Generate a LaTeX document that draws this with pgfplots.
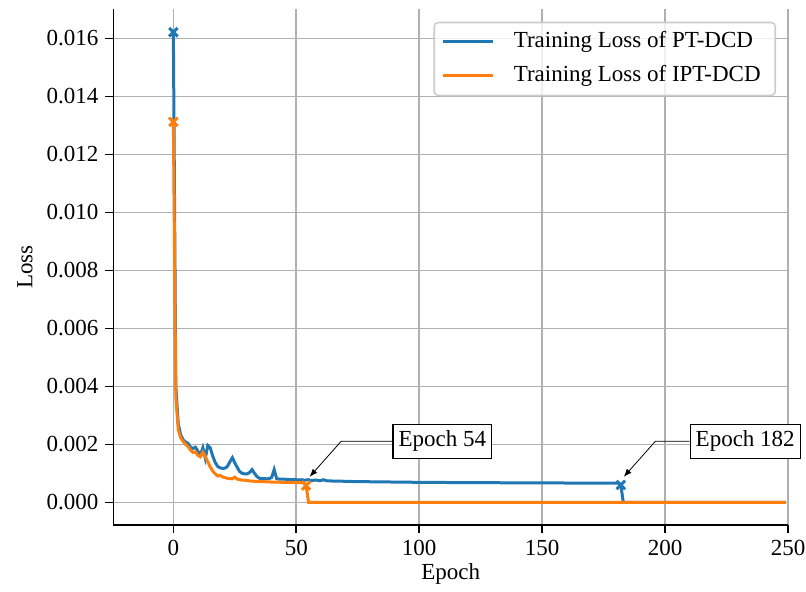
\documentclass[border=0pt]{standalone}
\usepackage{fontspec}
\setmainfont{Liberation Serif}
\usepackage{pgfplots}
\usepackage{pgfplotstable}
\pgfplotsset{compat=1.18}
\usetikzlibrary{arrows.meta}

\definecolor{tabblue}{HTML}{1F77B4}
\definecolor{taborange}{HTML}{FF7F0E}
\definecolor{gridgray}{HTML}{B0B0B0}
\definecolor{legendedge}{HTML}{CCCCCC}

% training loss per epoch
\pgfplotstableread{
epoch loss
0 0.01621
1 0.0040
2 0.0027
3 0.00232
4 0.00215
5 0.00208
6 0.00203
7 0.00190
8 0.00186
9 0.00190
10 0.00176
11 0.00164
12 0.00188
13 0.00152
14 0.00196
15 0.00188
16 0.00160
17 0.00138
18 0.00124
19 0.00119
20 0.00117
21 0.00118
22 0.00124
23 0.00140
24 0.00154
25 0.00136
26 0.00120
27 0.00106
28 0.00100
29 0.00098
30 0.00098
31 0.00103
32 0.00113
33 0.00100
34 0.00089
35 0.00083
36 0.00082
37 0.00082
38 0.00081
39 0.00082
40 0.00086
41 0.00113
42 0.00082
43 0.00080
44 0.00080
45 0.00080
46 0.00079
47 0.00079
48 0.00078
49 0.00079
50 0.00078
51 0.00077
52 0.00078
53 0.00077
54 0.00077
55 0.00078
56 0.00075
57 0.00076
58 0.00077
59 0.00075
60 0.00075
61 0.00078
62 0.00075
63 0.00074
64 0.00074
65 0.00073
68 0.00073
72 0.00072
80 0.00071
90 0.00070
100 0.00069
120 0.00068
150 0.00067
181 0.00066
182 0.00060
183 0.00000
249 0.00000
}\ptdcd

\pgfplotstableread{
epoch loss
0 0.01312
1 0.0036
2 0.0025
3 0.00222
4 0.00210
5 0.00200
6 0.00192
7 0.00180
8 0.00172
9 0.00174
10 0.00162
11 0.00157
12 0.00173
13 0.00158
14 0.00140
15 0.00122
16 0.00108
17 0.00099
18 0.00091
19 0.00093
20 0.00088
21 0.00085
22 0.00083
23 0.00082
24 0.00081
25 0.00087
26 0.00080
27 0.00078
28 0.00077
29 0.00076
30 0.00075
32 0.00073
35 0.00072
40 0.00070
45 0.00069
50 0.00068
53 0.00068
54 0.00058
55 0.00000
249 0.00000
}\iptdcd

\begin{document}
\begin{tikzpicture}[font=\fontsize{11.5}{13.8}\selectfont]
\begin{axis}[
  width=337.4pt, height=257.9pt, scale only axis,
  xmin=-24.4, xmax=250,
  ymin=-0.00078, ymax=0.0170,
  clip=false,
  axis lines=left,
  axis line style={-, line width=0.8pt, black},
  tick align=outside,
  major tick length=4pt,
  tick style={black, line width=0.8pt},
  xtick={0,50,100,150,200,250},
  ytick={0,0.002,0.004,0.006,0.008,0.010,0.012,0.014,0.016},
  xticklabel style={inner xsep=0pt},
  scaled y ticks=false,
  yticklabel style={/pgf/number format/fixed, /pgf/number format/precision=3,
    /pgf/number format/fixed zerofill},
  /pgf/number format/assume math mode=true,
  grid=major,
  grid style={gridgray, line width=0.8pt},
  xlabel={Epoch}, ylabel={Loss},
  every axis x label/.style={at={(axis description cs:0.5,-0.1066)}, anchor=base},
  every axis y label/.style={at={(axis description cs:-0.131,0.5)}, rotate=90, anchor=center},
  legend cell align=left,
  legend image code/.code={\draw[#1] (0pt,0pt) -- (25pt,0pt); \path (31pt,0pt);},
  legend style={at={(1,1)}, anchor=north east, xshift=-6pt, yshift=-6.2pt,
    draw=legendedge, line width=0.8pt, rounded corners=2pt,
    fill=white, fill opacity=0.8, text opacity=1,
    inner xsep=3.5pt, inner ysep=1.5pt, row sep=0.5pt,
    nodes={text height=8pt, text depth=2.5pt, inner ysep=3pt, inner xsep=3.8pt}},
]
\addplot[tabblue, line width=1.5pt] table[x=epoch, y=loss] {\ptdcd};
\addlegendentry{Training Loss of PT-DCD}
\addplot[taborange, line width=1.5pt] table[x=epoch, y=loss] {\iptdcd};
\addlegendentry{Training Loss of IPT-DCD}
\addplot[forget plot, only marks, mark=x, mark size=3pt, tabblue, line width=1.5pt]
  coordinates {(0,0.01621) (182,0.00060)};
\addplot[forget plot, only marks, mark=x, mark size=3pt, taborange, line width=1.5pt]
  coordinates {(0,0.01312) (54,0.00058)};

\node[draw=black, line width=0.6pt, fill=white, inner xsep=2.8pt, inner ysep=3.25pt,
  text height=8pt, text depth=2.5pt] (b54) at (axis cs:109.4,0.00211) {Epoch 54};
\node[draw=black, line width=0.6pt, fill=white, inner xsep=2.8pt, inner ysep=3.25pt,
  text height=8pt, text depth=2.5pt] (b182) at (axis cs:232.6,0.00211) {Epoch 182};
\draw[line width=0.4pt, -{Latex[length=4pt, width=3pt]}]
  (b54.west) -- ({axis cs:68.3,0} |- b54.west) -- (axis cs:55.4,0.00088);
\draw[line width=0.4pt, -{Latex[length=4pt, width=3pt]}]
  (b182.west) -- ({axis cs:196.1,0} |- b182.west) -- (axis cs:183.2,0.00088);
\end{axis}
\path ([shift={(-56.7pt,-31pt)}]current axis.south west)
  rectangle ([shift={(9pt,4.65pt)}]current axis.north east);
\end{tikzpicture}
\end{document}
